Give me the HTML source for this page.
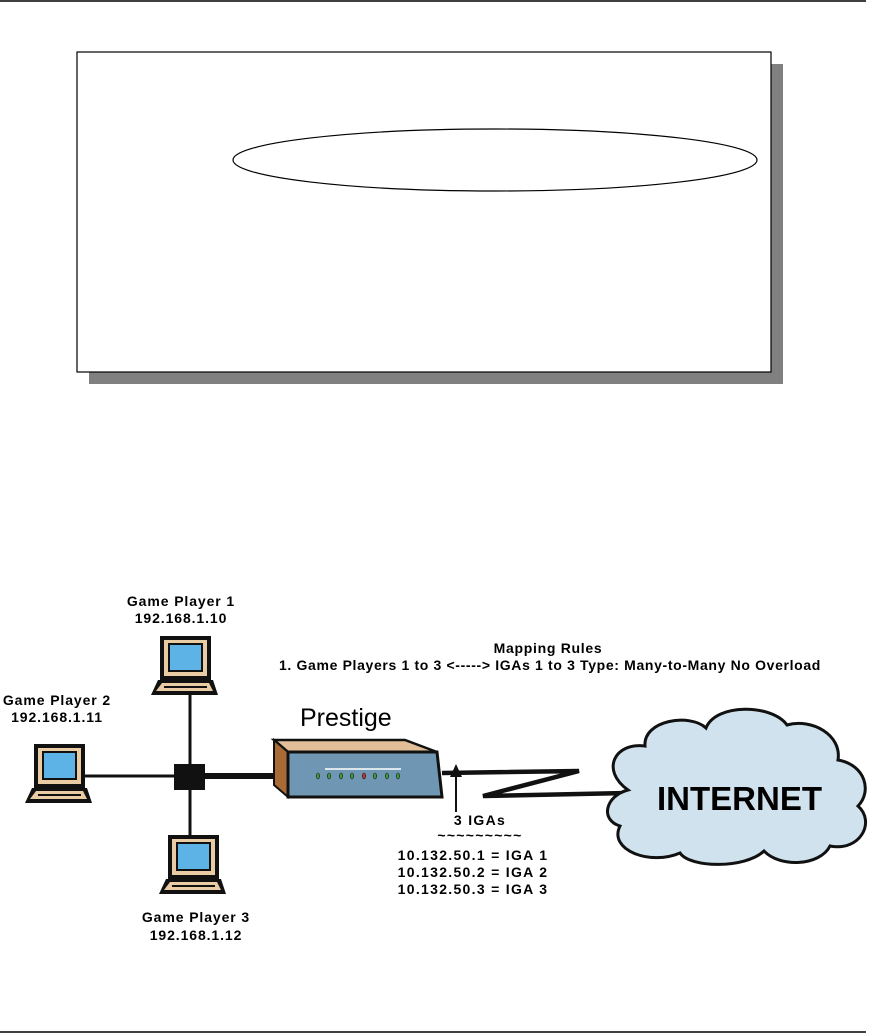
<!DOCTYPE html>
<html><head><meta charset="utf-8"><style>
html,body{margin:0;padding:0;background:#fff;}
svg{display:block;}
text{font-family:"Liberation Sans",Arial,sans-serif;}
.l{font-weight:bold;font-size:14px;letter-spacing:0.9px;text-anchor:middle;}
.i{font-weight:bold;font-size:14px;letter-spacing:1.3px;text-anchor:middle;}
</style></head><body>
<svg width="873" height="1034" viewBox="0 0 873 1034" xmlns="http://www.w3.org/2000/svg">
<defs>
<g id="lap">
  <rect x="0" y="0" width="51" height="44" fill="#111"/>
  <rect x="4" y="4" width="43" height="36" fill="#e9cba4"/>
  <rect x="8" y="7" width="35" height="29" fill="#111"/>
  <rect x="10" y="9" width="31" height="25" fill="#5db2e6"/>
  <path d="M-2,44 L53,44 L58,59 L-9,59 Z" fill="#111"/>
  <path d="M2,47 L49,47 L53,55 L-4,55 Z" fill="#e9cba4"/>
  <rect x="4" y="50" width="43" height="2" fill="#111"/>
</g>
</defs>
<line x1="0" y1="1" x2="866" y2="1" stroke="#000" stroke-width="1.5"/>
<line x1="0" y1="1032" x2="866" y2="1032" stroke="#000" stroke-width="1.5"/>
<rect x="89" y="64" width="694" height="320" fill="#808080"/>
<rect x="77" y="52" width="694" height="320" fill="#fff" stroke="#000" stroke-width="1.2"/>
<ellipse cx="495" cy="160" rx="262" ry="31" fill="none" stroke="#000" stroke-width="1.2"/>

<text class="l" x="181" y="606">Game Player 1</text>
<text class="l" x="181" y="623">192.168.1.10</text>
<text class="l" x="57" y="705">Game Player 2</text>
<text class="l" x="57" y="722">192.168.1.11</text>
<text class="l" x="196" y="922">Game Player 3</text>
<text class="l" x="196" y="940">192.168.1.12</text>

<line x1="190" y1="695" x2="190" y2="835" stroke="#111" stroke-width="3"/>
<line x1="84" y1="776" x2="180" y2="776" stroke="#111" stroke-width="3"/>
<line x1="200" y1="776" x2="276" y2="776" stroke="#111" stroke-width="6"/>
<rect x="174" y="764" width="31" height="26" fill="#111"/>

<use href="#lap" x="160" y="636"/>
<use href="#lap" x="34" y="744"/>
<use href="#lap" x="168" y="835"/>

<text font-size="25" x="300" y="726">Prestige</text>
<path d="M274,740 L405,740 L437,752 L288,752 Z" fill="#e2bf98" stroke="#111" stroke-width="2.5"/>
<path d="M274,740 L288,752 L288,797 L274,785 Z" fill="#a86b35" stroke="#111" stroke-width="2"/>
<path d="M288,752 L437,752 L442,797 L288,797 Z" fill="#6f97b3" stroke="#111" stroke-width="3"/>
<line x1="325" y1="769" x2="401" y2="769" stroke="#fff" stroke-width="1.5"/>
<g fill="#3b9a3b" stroke="#111" stroke-width="0.6">
<ellipse cx="318" cy="776" rx="1.6" ry="3"/><ellipse cx="329" cy="776" rx="1.6" ry="3"/>
<ellipse cx="341" cy="776" rx="1.6" ry="3"/><ellipse cx="352" cy="776" rx="1.6" ry="3"/>
<ellipse cx="364" cy="776" rx="1.6" ry="3" fill="#c03030"/><ellipse cx="375" cy="776" rx="1.6" ry="3"/>
<ellipse cx="387" cy="776" rx="1.6" ry="3"/><ellipse cx="398" cy="776" rx="1.6" ry="3"/>
</g>

<path d="M442,773 L579,771 L483,796 L627,793" fill="none" stroke="#111" stroke-width="4.5" stroke-linejoin="miter"/>
<line x1="456" y1="812" x2="456" y2="770" stroke="#111" stroke-width="2"/>
<path d="M450,777 L456,764 L462,777 Z" fill="#111"/>

<text font-weight="bold" font-size="14" letter-spacing="0.7" text-anchor="middle" x="548" y="653">Mapping Rules</text>
<text font-weight="bold" font-size="14" letter-spacing="0.65" text-anchor="middle" x="550" y="670">1. Game Players 1 to 3 &lt;-----&gt; IGAs 1 to 3 Type: Many-to-Many No Overload</text>

<text class="i" x="480" y="825">3 IGAs</text>
<text class="i" x="480" y="840">~~~~~~~~~</text>
<text class="i" x="473" y="860">10.132.50.1 = IGA 1</text>
<text class="i" x="473" y="877">10.132.50.2 = IGA 2</text>
<text class="i" x="473" y="894">10.132.50.3 = IGA 3</text>

<path d="M628,790 C600,770 615,742 645,746 C643,720 690,713 706,728 C716,703 772,704 787,725 C812,718 842,735 838,760 C866,765 872,792 858,806 C876,822 860,852 830,846 C820,866 780,868 764,851 C745,869 690,868 680,853 C650,866 608,850 620,826 C600,820 605,796 628,790 Z" fill="#cfe2ee" stroke="#111" stroke-width="3"/>
<text font-weight="bold" font-size="33" x="657" y="810">INTERNET</text>
</svg>
</body></html>
